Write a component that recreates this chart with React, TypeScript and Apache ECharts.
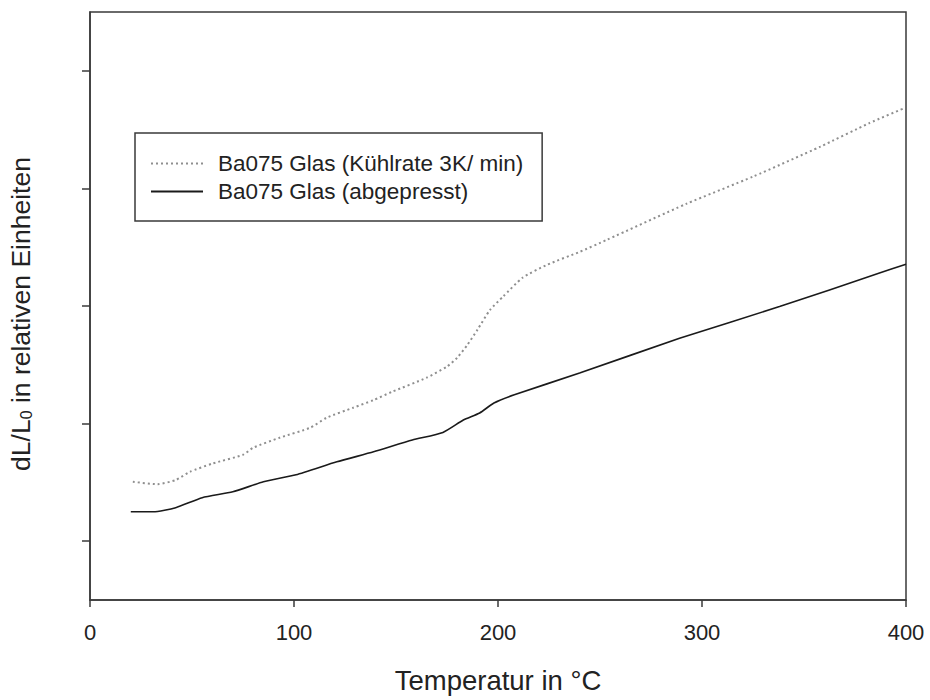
import React, { useEffect, useRef } from "react";
import * as echarts from "echarts";

const seriesNames = ["Ba075 Glas (Kühlrate 3K/ min)", "Ba075 Glas (abgepresst)"];

const cooledTemp = [21, 33, 42, 49, 60, 75, 80, 93, 108, 116, 129, 139, 148, 165, 175, 180, 185, 190, 196, 202.5, 212, 224, 240, 253, 292.5, 325, 358, 382, 399.5];
const cooledDL = [2.01, 1.97, 2.04, 2.18, 2.32, 2.47, 2.59, 2.76, 2.93, 3.1, 3.27, 3.4, 3.54, 3.78, 3.97, 4.12, 4.34, 4.6, 4.93, 5.16, 5.48, 5.7, 5.92, 6.12, 6.74, 7.2, 7.71, 8.11, 8.37];

const pressedTemp = [20, 31, 42, 55, 70, 85, 101, 121, 139, 158, 173, 183, 191, 198, 208, 240, 289, 338, 387, 400];
const pressedDL = [1.5, 1.5, 1.57, 1.74, 1.84, 2.01, 2.13, 2.35, 2.52, 2.72, 2.85, 3.06, 3.18, 3.35, 3.49, 3.86, 4.45, 4.99, 5.56, 5.71];

const xMin = 0;
const xMax = 400;
const xStep = 100;
const yMin = 0;
const yMax = 10;
const yTickValues = [1, 3, 5, 7, 9];

const xTitle = "Temperatur in °C";
const yTitle = "{a|dL/L}{b|0}{a| in relativen Einheiten}";

export default function App() {
  const ref = useRef<HTMLDivElement>(null);
  useEffect(() => {
    document.body.style.margin = "0";
    const chart = echarts.init(ref.current!, null, { renderer: "svg" });
    const font = "'Liberation Sans', Arial, Helvetica, sans-serif";
    const axisColor = "#3a3a3a";
    chart.setOption({
      animation: false,
      textStyle: { fontFamily: font, color: "#222" },
      grid: {
        left: 90,
        top: 12,
        right: 24,
        bottom: 100,
        containLabel: false,
        outerBoundsMode: "none",
        show: true,
        borderColor: axisColor,
        borderWidth: 1.5,
      },
      legend: {
        orient: "vertical",
        left: 135,
        top: 133,
        padding: [19, 19, 18, 15],
        itemGap: 5,
        itemWidth: 52,
        itemHeight: 14,
        borderColor: axisColor,
        borderWidth: 1.5,
        itemStyle: { opacity: 0 },
        textStyle: { fontSize: 22.5, color: "#222", fontFamily: font, padding: [0, 0, 0, 10] },
        data: seriesNames,
      },
      xAxis: {
        type: "value",
        min: xMin,
        max: xMax,
        interval: xStep,
        axisLine: { show: true, lineStyle: { color: axisColor, width: 1.5 } },
        axisTick: { show: true, inside: false, length: 7, lineStyle: { color: axisColor, width: 1.5 } },
        axisLabel: { fontSize: 22, color: "#222", margin: 21, fontFamily: font },
        splitLine: { show: false },
        name: xTitle,
        nameLocation: "middle",
        nameGap: 66,
        nameTextStyle: { fontSize: 27.5, color: "#222", fontFamily: font },
      },
      yAxis: {
        type: "value",
        min: yMin,
        max: yMax,
        axisLine: { show: true, lineStyle: { color: axisColor, width: 1.5 } },
        axisTick: {
          show: true,
          inside: false,
          length: 8,
          customValues: yTickValues,
          lineStyle: { color: axisColor, width: 1.5 },
        },
        axisLabel: { show: false },
        splitLine: { show: false },
        name: yTitle,
        nameLocation: "middle",
        nameGap: 56,
        nameTextStyle: {
          color: "#222",
          fontFamily: font,
          padding: [0, 16, 0, 0],
          rich: {
            a: { fontSize: 26.5, lineHeight: 27, verticalAlign: "top", color: "#222", fontFamily: font },
            b: { fontSize: 16, lineHeight: 16, padding: [16, 0, 0, 0], verticalAlign: "bottom", color: "#222", fontFamily: font },
          },
        },
      },
      series: [
        {
          name: seriesNames[0],
          type: "line",
          symbol: "none",
          smooth: 0.2,
          data: cooledTemp.map((t, i) => [t, cooledDL[i]]),
          lineStyle: { color: "#8f8f8f", width: 2, type: [2, 3] },
          itemStyle: { color: "#8f8f8f" },
        },
        {
          name: seriesNames[1],
          type: "line",
          symbol: "none",
          smooth: 0.2,
          data: pressedTemp.map((t, i) => [t, pressedDL[i]]),
          lineStyle: { color: "#1a1a1a", width: 1.6 },
          itemStyle: { color: "#1a1a1a" },
        },
      ],
    });
    return () => chart.dispose();
  }, []);
  return <div ref={ref} style={{ width: 930, height: 700 }} />;
}
